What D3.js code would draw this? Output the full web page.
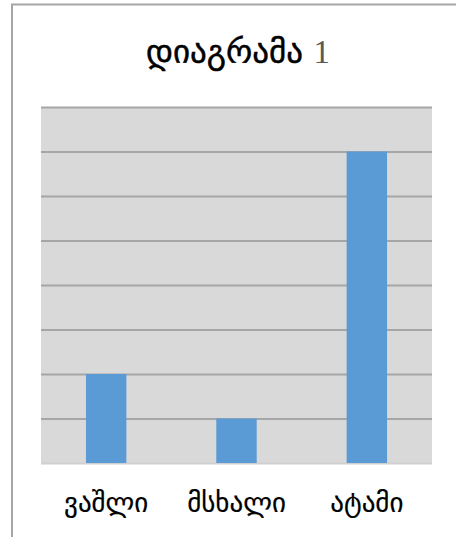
<!DOCTYPE html>
<html>
<head>
<meta charset="utf-8">
<script src="https://cdn.jsdelivr.net/npm/d3@7/dist/d3.min.js"></script>
<style>
  html, body { margin: 0; padding: 0; background: #fff; }
  svg { display: block; }
</style>
</head>
<body>
<svg id="chart" width="456" height="537"></svg>
<script>
// Fruit counts
const categories = ["ვაშლი", "მსხალი", "ატამი"];
const values = [2, 1, 7];
const yTicks = [0, 1, 2, 3, 4, 5, 6, 7, 8];
const titleWord = "დიაგრამა";
const titleNumber = "1";

const W = 456, H = 537;
const plot = { left: 41, right: 432, top: 107, bottom: 463 };

const svg = d3.select("#chart");

// chart frame
svg.append("rect")
  .attr("x", 12).attr("y", 4.5)
  .attr("width", W + 10).attr("height", H + 10)
  .attr("fill", "#fff")
  .attr("stroke", "#a6a6a6").attr("stroke-width", 2);

const x = d3.scaleBand()
  .domain(categories)
  .range([plot.left, plot.right])
  .paddingInner(0.69).paddingOuter(0.345);

const y = d3.scaleLinear()
  .domain([0, 8])
  .range([plot.bottom, plot.top]);

// plot background
svg.append("rect")
  .attr("x", plot.left).attr("y", plot.top)
  .attr("width", plot.right - plot.left).attr("height", plot.bottom - plot.top)
  .attr("fill", "#d9d9d9");

// horizontal gridlines
const yAxis = d3.axisLeft(y).tickValues(yTicks).tickSize(-(plot.right - plot.left)).tickFormat("");
const gy = svg.append("g").attr("transform", `translate(${plot.left},0)`).call(yAxis);
gy.select(".domain").remove();
gy.selectAll(".tick line")
  .attr("stroke", (d) => d === 0 ? "#d0d0d0" : "#a6a6a6")
  .attr("stroke-width", 2);

// bars
svg.append("g").selectAll("rect")
  .data(values)
  .join("rect")
  .attr("x", (d, i) => x(categories[i]))
  .attr("y", (d) => y(d))
  .attr("width", x.bandwidth())
  .attr("height", (d) => y(0) - y(d))
  .attr("fill", "#5b9bd5");

// category labels
const xAxis = d3.axisBottom(x).tickSize(0).tickPadding(0);
const gx = svg.append("g").attr("transform", `translate(0,${plot.bottom})`).call(xAxis);
gx.select(".domain").remove();
gx.selectAll(".tick text")
  .attr("y", 49)
  .attr("dy", null)
  .attr("font-family", "DejaVu Sans, sans-serif")
  .attr("font-size", 27)
  .attr("fill", "#000")
  .attr("stroke", "#000").attr("stroke-width", 0.2);

// title
const title = svg.append("text")
  .attr("x", 238).attr("y", 63)
  .attr("text-anchor", "middle")
  .attr("font-size", 33);
title.append("tspan")
  .attr("font-family", "DejaVu Sans, sans-serif")
  .attr("fill", "#000")
  .attr("stroke", "#000").attr("stroke-width", 0.5)
  .text(titleWord + " ");
title.append("tspan")
  .attr("font-family", "Liberation Serif, DejaVu Serif, serif")
  .attr("fill", "#595959")
  .text(titleNumber);
</script>
</body>
</html>
